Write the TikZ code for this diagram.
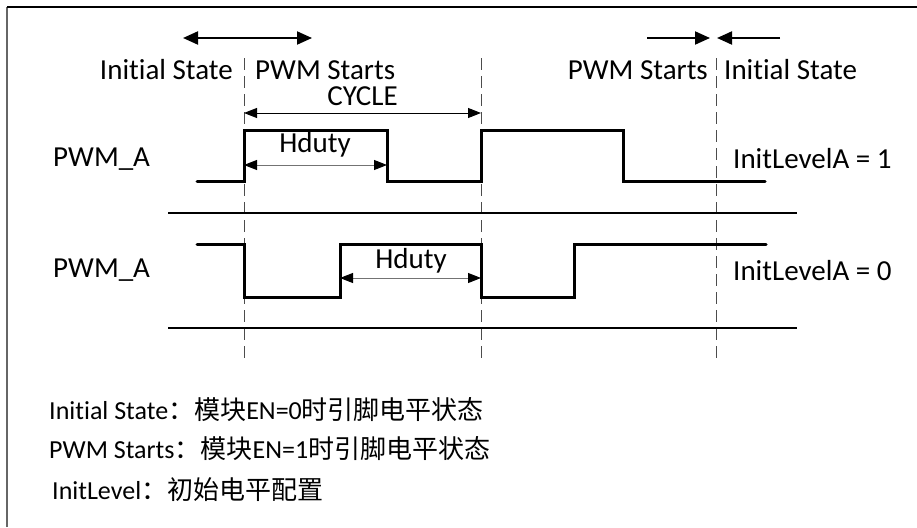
\documentclass[tikz,border=0pt]{standalone}
\usepackage{fontspec}
\setmainfont{Carlito}[Ligatures=NoCommon]
\newfontfamily\cjk{Noto Sans CJK SC}
\usetikzlibrary{positioning}
\usetikzlibrary{arrows.meta}

\begin{document}
\begin{tikzpicture}[x=1pt,y=-1pt,
    wave/.style={line width=3pt,line cap=round,line join=miter},
    bigarrow/.style={line width=2pt,-{Triangle[length=15pt,width=13pt]}},
    dim/.style={line width=1pt,{Triangle[length=13pt,width=10pt,color=black]}-{Triangle[length=13pt,width=10pt,color=black]}},
    guide/.style={line width=0.8pt,dash pattern=on 12pt off 6pt,black!70},
    lbl/.style={font=\fontsize{29}{34}\selectfont,inner sep=0pt},
    note/.style={font=\fontsize{26}{31}\selectfont,inner sep=0pt,anchor=west}]
   \useasboundingbox (0,0) rectangle (917,527);
   % frame
   \draw[line width=1.5pt,black!60] (7,527) -- (7,7);
   \draw[line width=1.5pt] (7,7) -- (917,7);
   % time marks
   \coordinate (ta) at (244,58); \coordinate (ta') at (244,362);
   \coordinate (tb) at (481,58); \coordinate (tb') at (481,362);
   \coordinate (tc) at (716,58); \coordinate (tc') at (716,362);
   \draw[guide] (ta) -- (ta');
   \draw[guide] (tb) -- (tb');
   \draw[guide] (tc) -- (tc');
   % state labels
   \node[lbl,anchor=east] (init1) at (233,70) {Initial State};
   \node[lbl,right=22pt of init1] (start1) {PWM Starts};
   \node[lbl,anchor=east] (start2) at (708,70) {PWM Starts};
   \node[lbl,right=16pt of start2] (init2) {Initial State};
   \node[lbl,anchor=east] (cycle) at (398,96) {CYCLE};
   % state arrows
   \coordinate (s1) at (183,38); \coordinate (s2) at (312,38);
   \coordinate (s3) at (647,38); \coordinate (s4) at (710,38);
   \coordinate (s5) at (780,38); \coordinate (s6) at (717,38);
   \draw[bigarrow,{Triangle[length=15pt,width=13pt]}-{Triangle[length=15pt,width=13pt]}] (s1) -- (s2);
   \draw[bigarrow] (s3) -- (s4);
   \draw[bigarrow] (s5) -- (s6);
   % cycle
   \coordinate (c1) at (244,113); \coordinate (c2) at (481,113);
   \draw[dim] (c1) -- (c2);
   % PWM_A, InitLevelA = 1
   \node[lbl,anchor=west] (pwm1) at (53,159) {PWM\_A};
   \node[lbl,anchor=west] (lvl1) at (733,159) {InitLevelA = 1};
   \draw[wave] (197,181) -- (244,181) -- (244,130) -- (387,130) -- (387,181)
      -- (481,181) -- (481,130) -- (623,130) -- (623,181) -- (765,181);
   \coordinate (h1) at (244,165); \coordinate (h2) at (387,165);
   \draw[dim,black!55] (h1) -- (h2);
   \node[lbl] (duty1) at (315,145) {Hduty};
   \draw[line width=1.5pt] (168,213) -- (797,213);
   % PWM_A, InitLevelA = 0
   \node[lbl,anchor=west] (pwm2) at (53,270) {PWM\_A};
   \node[lbl,anchor=west] (lvl2) at (733,271) {InitLevelA = 0};
   \draw[wave] (197,244) -- (244,244) -- (244,297) -- (340,297) -- (340,244)
      -- (481,244) -- (481,297) -- (574,297) -- (574,244) -- (766,244);
   \coordinate (h3) at (340,278); \coordinate (h4) at (481,278);
   \draw[dim,black!55] (h3) -- (h4);
   \node[lbl] (duty2) at (411,261) {Hduty};
   \draw[line width=1.5pt] (168,328) -- (797,328);
   % notes
   \node[note] (n1) at (49,410) {Initial State{\cjk ：模块}EN=0{\cjk 时引脚电平状态}};
   \node[note] (n2) at (49,449) {PWM Starts{\cjk ：模块}EN=1{\cjk 时引脚电平状态}};
   \node[note] (n3) at (52,490) {InitLevel{\cjk ：初始电平配置}};
\end{tikzpicture}
\end{document}
